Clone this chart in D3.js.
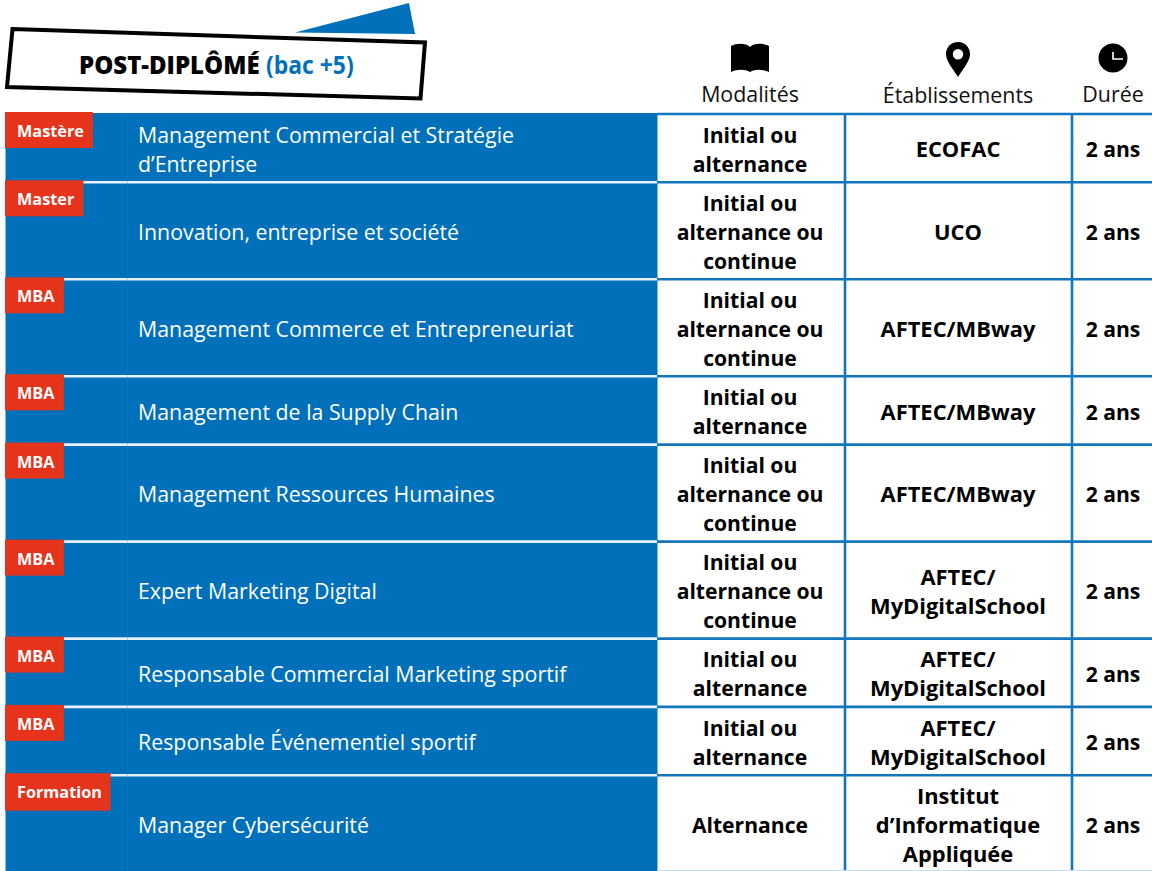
<!DOCTYPE html>
<html>
<head>
<meta charset="utf-8">
<script src="https://cdn.jsdelivr.net/npm/d3@7"></script>
<style>
  html, body { margin: 0; background: #fff; }
  svg { display: block; }
  text { font-family: "Open Sans", "Noto Sans", sans-serif; }
</style>
</head>
<body>
<div id="chart"></div>
<script>
const badges = ["Mastère", "Master", "MBA", "MBA", "MBA", "MBA", "MBA", "MBA", "Formation"];
const titles = [
  ["Management Commercial et Stratégie", "d’Entreprise"],
  ["Innovation, entreprise et société"],
  ["Management Commerce et Entrepreneuriat"],
  ["Management de la Supply Chain"],
  ["Management Ressources Humaines"],
  ["Expert Marketing Digital"],
  ["Responsable Commercial Marketing sportif"],
  ["Responsable Événementiel sportif"],
  ["Manager Cybersécurité"]
];
const modalites = [
  ["Initial ou", "alternance"],
  ["Initial ou", "alternance ou", "continue"],
  ["Initial ou", "alternance ou", "continue"],
  ["Initial ou", "alternance"],
  ["Initial ou", "alternance ou", "continue"],
  ["Initial ou", "alternance ou", "continue"],
  ["Initial ou", "alternance"],
  ["Initial ou", "alternance"],
  ["Alternance"]
];
const etablissements = [
  ["ECOFAC"],
  ["UCO"],
  ["AFTEC/MBway"],
  ["AFTEC/MBway"],
  ["AFTEC/MBway"],
  ["AFTEC/", "MyDigitalSchool"],
  ["AFTEC/", "MyDigitalSchool"],
  ["AFTEC/", "MyDigitalSchool"],
  ["Institut", "d’Informatique", "Appliquée"]
];
const durees = ["2 ans", "2 ans", "2 ans", "2 ans", "2 ans", "2 ans", "2 ans", "2 ans", "2 ans"];
const headers = ["Modalités", "Établissements", "Durée"];

const width = 1152;
const height = 871;
const blue = "#0070ba";
const lineBlue = "#1276bd";
const red = "#e6341c";
const lineHeight = 29;
const tableTop = 114;

const svg = d3.select("#chart").append("svg")
  .attr("width", width)
  .attr("height", height);

// row height follows the number of text lines in the row
const rowHeight = d3.scaleOrdinal().domain([1, 2, 3]).range([68.3, 68.3, 97]);
const lineCounts = badges.map((_d, i) => Math.max(modalites[i].length, etablissements[i].length, titles[i].length));
const rowTops = [tableTop, ...d3.cumsum(lineCounts, (d) => rowHeight(d)).map((d) => tableTop + d)];

const columns = [
  { x0: 657, cx: 750, k: 0.96, values: modalites },
  { x0: 845, cx: 958, k: 0.995, values: etablissements },
  { x0: 1072, cx: 1113, k: 0.96, values: durees.map((d) => [d]) }
];

// myriad has other proportions than anything installed, so adjust the natural width
const fit = (sel, k) =>
  sel.each(function () {
    const w = this.getComputedTextLength();
    d3.select(this).attr("textLength", w * k).attr("lengthAdjust", "spacingAndGlyphs");
  });

// title box
svg.append("path")
  .attr("d", d3.line()([[295, 32.5], [409, 3], [415, 34]]) + "Z")
  .attr("fill", blue);
svg.append("path")
  .attr("d", d3.line()([[12.5, 29], [425, 42.5], [420.5, 98.5], [7, 87]]) + "Z")
  .attr("fill", "#fff")
  .attr("stroke", "#000")
  .attr("stroke-width", 4);
svg.append("text")
  .attr("x", 79)
  .attr("y", 74)
  .attr("font-size", 25)
  .attr("font-weight", 800)
  .attr("fill", "#000")
  .text("POST-DIPLÔMÉ")
  .call(fit, 0.96);
svg.append("text")
  .attr("x", 266)
  .attr("y", 74)
  .attr("font-size", 25)
  .attr("font-weight", 700)
  .attr("fill", blue)
  .text("(bac +5)")
  .call(fit, 0.915);

// header icons
const icons = svg.append("g");
icons.append("path")
  .attr("d", "M731 46 C737 43 746 43 750 47 C754 43 763 43 769 46 L769 72 C763 69 755 69 750 72 C745 69 737 69 731 72 Z")
  .attr("fill", "#000");
icons.append("path")
  .attr("fill-rule", "evenodd")
  .attr("fill", "#000")
  .attr("d", "M958 42 C965 42 970 47.5 970 54 C970 61 963 69 958 77 C953 69 946 61 946 54 C946 47.5 951 42 958 42 Z M958 49 A5.2 5.2 0 1 0 958 59.4 A5.2 5.2 0 1 0 958 49 Z");
icons.append("circle").attr("cx", 1113).attr("cy", 58).attr("r", 14.5).attr("fill", "#000");
icons.append("path")
  .attr("d", "M1113 52 V59 H1123")
  .attr("fill", "none")
  .attr("stroke", "#fff")
  .attr("stroke-width", 1.6);

svg.append("g")
  .selectAll("text")
  .data(headers)
  .join("text")
  .attr("x", (_d, i) => columns[i].cx)
  .attr("y", (_d, i) => (i === 1 ? 103 : 101.5))
  .attr("text-anchor", "middle")
  .attr("font-size", 21.5)
  .attr("fill", "#111")
  .text((d) => d)
  .call(fit, 0.995);

// blue band
svg.append("rect")
  .attr("x", 5.5)
  .attr("y", tableTop - 1)
  .attr("width", 652)
  .attr("height", height - tableTop + 1)
  .attr("fill", blue);

// white gaps between rows
svg.append("g")
  .selectAll("line")
  .data(rowTops.slice(1, -1))
  .join("line")
  .attr("x1", 5)
  .attr("x2", 657)
  .attr("y1", (d) => d)
  .attr("y2", (d) => d)
  .attr("stroke", "#e8f2f9")
  .attr("stroke-width", 2.6);

// faint guide inside the band
svg.append("line")
  .attr("x1", 127.5)
  .attr("x2", 127.5)
  .attr("y1", tableTop)
  .attr("y2", height)
  .attr("stroke", "#1a7dc0")
  .attr("stroke-width", 0.3);

// cell borders
const grid = svg.append("g")
  .attr("stroke", lineBlue)
  .attr("stroke-width", 2.6);
grid.selectAll(".h")
  .data(rowTops.slice(0, -1))
  .join("line")
  .attr("class", "h")
  .attr("x1", 657)
  .attr("x2", width)
  .attr("y1", (d) => d)
  .attr("y2", (d) => d);
grid.selectAll(".v")
  .data(columns.slice(1))
  .join("line")
  .attr("class", "v")
  .attr("x1", (d) => d.x0)
  .attr("x2", (d) => d.x0)
  .attr("y1", tableTop - 1)
  .attr("y2", height);
svg.append("line")
  .attr("x1", 657)
  .attr("x2", width)
  .attr("y1", height - 0.5)
  .attr("y2", height - 0.5)
  .attr("stroke", "#bfe0f0")
  .attr("stroke-width", 1);

// a stack of lines centred on the row, baseline offset
const drawLines = (parent, lines, mid, x, anchor, fill, weight, k) => {
  const firstBase = mid + 9.2 - ((lines.length - 1) * lineHeight) / 2;
  parent.selectAll(null)
    .data(lines)
    .join("text")
    .attr("x", x)
    .attr("y", (_d, i) => firstBase + i * lineHeight)
    .attr("text-anchor", anchor)
    .attr("fill", fill)
    .attr("font-weight", weight)
    .attr("font-size", 22)
    .text((d) => d)
    .call(fit, k);
};

badges.forEach((_d, i) => {
  const mid = (rowTops[i] + rowTops[i + 1]) / 2;
  drawLines(svg.append("g"), titles[i], mid, 138, "start", "#fff", 400, 0.97);
  columns.forEach((c) => {
    drawLines(svg.append("g"), c.values[i], mid, c.cx, "middle", "#000", 700, c.k);
  });
});

// red badges sit on top of the gaps
const badgeFit = 0.985;
const badgeGroup = svg.append("g")
  .selectAll("g")
  .data(badges)
  .join("g")
  .attr("transform", (_d, i) => `translate(5, ${rowTops[i] - 2})`);
const badgeRects = badgeGroup.append("rect")
  .attr("height", (d) => (d === "Formation" ? 37.5 : 36))
  .attr("fill", red);
badgeGroup.append("text")
  .attr("x", 12)
  .attr("y", 25)
  .attr("font-size", 16.5)
  .attr("font-weight", 700)
  .attr("fill", "#fff")
  .text((d) => d)
  .call(fit, badgeFit);
badgeRects.attr("width", function () {
  return this.parentNode.querySelector("text").getComputedTextLength() * badgeFit + 22;
});
</script>
</body>
</html>
